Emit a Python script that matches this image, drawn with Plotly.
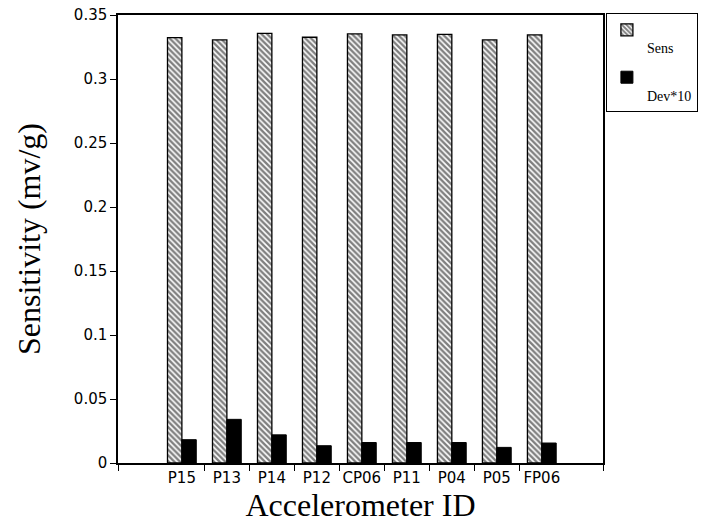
import plotly.graph_objects as go

ids = ["P15", "P13", "P14", "P12", "CP06", "P11", "P04", "P05", "FP06"]
sens = [0.3323, 0.3305, 0.3357, 0.3326, 0.3352, 0.3344, 0.3349, 0.3305, 0.3344]
dev10 = [0.0182, 0.0341, 0.0220, 0.0135, 0.0160, 0.0160, 0.0160, 0.0122, 0.0156]
y_ticks = [0, 0.05, 0.1, 0.15, 0.2, 0.25, 0.3, 0.35]

xpos = list(range(1, len(ids) + 1))
x_lo, x_hi = -0.42, 10.36

fig = go.Figure()
fig.add_trace(go.Bar(
    x=xpos, y=sens, name=" <br>Sens", legendgroup="a",
    marker=dict(color="white", line=dict(color="black", width=1.3),
                pattern=dict(shape="\\", fgcolor="black", bgcolor="white",
                             size=4, solidity=0.6)),
))
fig.add_trace(go.Bar(
    x=xpos, y=dev10, name=" <br>Dev*10", legendgroup="b",
    marker=dict(color="black", line=dict(color="black", width=1)),
))

fig.update_layout(
    width=727, height=532,
    margin=dict(l=118, r=124, t=15, b=69, autoexpand=False),
    paper_bgcolor="white", plot_bgcolor="white",
    barmode="group", bargap=0.36, bargroupgap=0,
    showlegend=True,
    legend=dict(x=1.006, y=1.004, xanchor="left", yanchor="top",
                bordercolor="black", borderwidth=1, bgcolor="white",
                valign="top", traceorder="grouped", tracegroupgap=8,
                font=dict(family="Liberation Serif", size=14, color="black")),
)
fig.update_xaxes(
    range=[x_lo, x_hi],
    tickvals=xpos, ticktext=ids, ticks="", ticklen=0,
    tickfont=dict(family="DejaVu Sans", size=15, color="black"),
    minor=dict(tickvals=[x_lo] + [p + 0.5 for p in xpos[:-1]] + [x_hi],
               ticks="outside", ticklen=6, tickcolor="black", tickwidth=1.3),
    showline=True, linecolor="black", linewidth=1.5, mirror=True,
    showgrid=False, zeroline=False,
    title=dict(text="Accelerometer ID",
               font=dict(family="Liberation Serif", size=32, color="black"),
               standoff=4),
)
fig.update_yaxes(
    range=[0, 0.35], tickvals=y_ticks,
    ticks="outside", ticklen=6, tickcolor="black", tickwidth=1.3,
    tickfont=dict(family="DejaVu Sans", size=15, color="black"),
    showline=True, linecolor="black", linewidth=1.5, mirror=True,
    showgrid=False, zeroline=False,
    title=dict(text="Sensitivity (mv/g)",
               font=dict(family="Liberation Serif", size=32, color="black"),
               standoff=24),
)

fig.write_html("out.html",
               config={"displayModeBar": False},
               post_script="document.body.style.margin='0';")
